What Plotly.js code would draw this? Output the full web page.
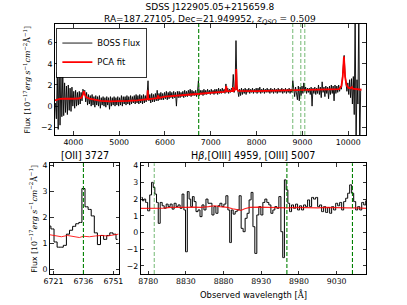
<!DOCTYPE html>
<html><head><meta charset="utf-8">
<script src="https://cdn.plot.ly/plotly-3.0.1.min.js"></script>
<style>html,body{margin:0;padding:0;background:#fff;} #chart{width:407px;height:305px;}</style>
</head><body><div id="chart"></div>
<script>
// ---- full spectrum (BOSS flux), regular wavelength grid ----
const fluxStart = 3610;
const fluxStep = 20;
const bossFlux = [
 0.3,-1.2,3.2,-2.2,4.5,-1.8,2.8,-1.0,3.0,-0.9,
 2.2,-0.6,1.9,-0.8,2.0,-0.4,1.7,-0.5,1.8,0.0,
 1.4,-0.2,1.5,0.0,1.3,0.1,1.4,0.2,1.3,0.5,
 1.6,1.3,1.5,0.4,1.3,0.1,1.1,0.2,1.0,0.0,
 1.1,0.1,0.9,-0.1,1.0,0.1,0.9,0.0,1.0,-0.2,
 0.8,0.1,0.9,0.0,0.8,-0.1,0.9,0.1,0.8,-0.3,
 0.9,0.0,0.8,0.1,0.9,0.0,0.8,0.1,0.9,0.0,
 0.8,0.1,1.0,0.0,0.9,0.2,0.9,0.1,1.0,0.2,
 0.9,0.1,1.0,0.2,0.9,0.3,1.0,0.2,1.1,0.3,
 1.0,0.2,1.1,0.3,1.0,0.2,1.1,0.3,1.0,0.4,
 1.1,2.4,0.5,1.1,0.3,1.2,0.4,1.1,0.4,1.2,
 0.5,1.5,0.5,1.2,0.6,1.3,0.6,1.2,0.6,1.3,
 0.7,1.4,0.6,1.3,0.7,1.4,0.8,1.3,0.7,1.4,
 0.8,1.3,0.0,1.4,0.8,1.4,0.8,1.3,0.9,1.4,
 0.8,1.5,0.9,1.4,0.9,1.5,1.0,1.6,0.9,1.5,
 1.0,1.4,1.0,1.5,0.9,1.4,2.4,1.0,1.5,1.1,
 1.5,1.0,1.6,1.1,1.5,1.1,1.6,1.2,1.5,1.1,
 1.6,1.2,1.5,1.1,1.6,1.2,1.6,1.1,1.7,1.2,
 1.6,1.2,1.7,1.3,1.6,1.2,2.1,1.3,1.7,1.2,
 1.6,1.3,1.7,1.5,3.0,1.3,1.8,6.2,2.0,1.5,
 0.9,1.6,1.0,1.7,1.1,1.6,1.2,1.7,1.1,1.6,
 1.3,1.7,1.2,1.6,1.3,1.7,1.2,1.6,1.3,1.7,
 1.2,1.7,1.3,1.8,1.2,1.6,1.3,1.7,1.2,1.6,
 1.3,1.7,1.3,1.6,1.2,1.7,1.3,1.6,1.2,1.7,
 1.3,1.6,1.2,1.7,1.3,1.6,1.3,1.7,1.2,1.6,
 1.3,1.7,1.2,1.6,1.3,1.7,1.2,1.6,1.3,2.4,
 1.3,0.9,1.8,1.2,0.6,1.9,0.5,1.8,1.0,1.9,
 1.2,2.2,1.4,1.8,1.2,1.7,1.3,1.7,1.1,1.8,
 0.0,1.7,1.2,1.8,1.1,1.7,1.2,2.0,1.1,1.8,
 0.8,2.3,1.3,1.8,0.9,1.9,1.2,1.8,0.7,1.9,
 1.1,2.0,1.2,1.9,0.5,2.0,1.2,1.9,1.3,2.0,
 1.4,1.9,1.6,2.6,4.0,4.8,3.0,2.0,1.4,2.2,
 1.1,2.5,0.8,2.6,0.2,2.8,-0.8,9.0,-4.0,2.5,
 0.2,9.0,-4.0,1.5
];
// ---- PCA fit over the full spectrum ----
const fitWave = [3600,3650,3700,3800,3900,4000,4100,4180,4210,4230,4250,4280,4350,4450,4600,4800,5000,5200,5400,5600,5615,5624,5635,5700,5830,5850,5870,6000,6200,6400,6560,6700,6900,7100,7300,7320,7337,7355,7470,7483,7500,7540,7555,7570,7600,7800,8000,8200,8500,8800,9000,9300,9600,9800,9850,9880,9905,9930,9960,10000,10050,10080,10100,10200,10290];
const fitFlux = [0.55,0.62,0.68,0.70,0.68,0.70,0.72,0.80,1.10,1.40,1.10,0.85,0.70,0.60,0.50,0.45,0.45,0.50,0.55,0.62,0.65,1.50,0.65,0.68,0.75,1.00,0.78,0.90,0.95,1.00,1.10,1.15,1.25,1.30,1.35,1.50,1.90,1.40,1.45,1.80,1.45,1.60,3.50,1.60,1.45,1.40,1.42,1.45,1.47,1.48,1.50,1.50,1.52,1.60,1.90,2.80,4.70,2.80,2.00,1.75,1.70,1.80,1.65,1.58,1.55];
// ---- [OII] 3727 zoom ----
const oiiWave = [6719.0,6720.5,6722.1,6723.6,6725.2,6726.7,6728.3,6729.8,6731.4,6732.9,6734.5,6736.0,6737.6,6739.1,6740.7,6742.2,6743.8,6745.3,6746.9,6748.4,6750.0,6751.5,6753.1];
const oiiFlux = [1.66,1.55,1.05,0.85,0.85,0.92,1.35,1.50,1.65,1.75,1.80,3.10,2.40,2.30,2.05,1.40,0.95,1.30,1.15,1.30,1.40,1.35,1.15];
const oiiFitWave = [6719,6722,6725,6728,6731,6734,6736,6739,6742,6745,6748,6751,6753.5];
const oiiFitFlux = [1.33,1.28,1.25,1.30,1.26,1.22,1.27,1.25,1.28,1.30,1.28,1.33,1.35];
// ---- Hbeta, [OIII] zoom ----
const hbWave = [8771.2,8773.2,8775.4,8777.8,8780.7,8783.3,8785.5,8787.7,8789.9,8792.1,8794.5,8797.2,8799.8,8802.5,8805.1,8807.7,8810.4,8813.0,8815.7,8818.3,8820.9,8823.6,8826.2,8828.4,8830.6,8833.1,8835.3,8837.5,8839.7,8842.1,8844.7,8847.4,8850.0,8852.6,8855.3,8857.9,8860.6,8863.2,8865.9,8868.5,8871.1,8873.8,8876.4,8879.1,8881.7,8884.4,8887.0,8889.2,8891.4,8894.0,8896.7,8899.3,8902.0,8904.6,8907.2,8909.9,8912.5,8915.2,8917.8,8920.1,8922.8,8925.4,8928.1,8930.8,8933.4,8936.1,8938.7,8941.4,8944.1,8946.7,8949.4,8952.0,8954.7,8957.4,8959.6,8961.8,8964.2,8966.4,8968.9,8971.5,8974.2,8976.9,8979.5,8982.2,8984.8,8987.5,8990.2,8992.8,8995.5,8998.1,9000.8,9003.5,9006.1,9008.8,9011.4,9014.1,9016.8,9019.4,9022.1,9024.7,9027.4,9030.1,9032.7,9035.4,9038.0,9040.7,9043.4,9046.0,9048.7,9051.3,9054.0,9056.6,9059.3,9062.0,9064.6,9067.3,9070.0];
const hbFlux = [2.10,1.90,2.00,1.80,1.30,2.25,3.00,2.70,2.30,1.80,0.55,1.80,1.60,1.45,1.70,1.55,1.70,1.40,1.75,1.55,1.65,1.45,2.30,1.35,-1.15,2.45,2.00,1.55,2.15,1.85,1.25,1.35,0.95,1.65,1.35,2.00,1.75,1.75,1.05,1.55,1.15,1.60,1.75,1.55,1.70,2.20,1.35,-0.60,1.35,1.10,1.25,1.35,2.20,0.25,0.05,0.85,1.15,1.95,2.40,0.35,-1.25,1.05,1.55,1.05,1.80,2.00,1.80,1.65,1.15,1.35,1.55,1.45,2.15,0.05,-1.50,3.15,2.55,1.75,1.25,1.65,1.45,1.70,1.35,1.60,1.35,1.65,1.55,1.95,1.55,2.10,2.00,2.10,1.55,1.65,1.25,1.55,1.20,1.50,1.15,1.55,1.35,1.75,1.60,1.80,1.35,1.85,2.05,2.35,2.85,2.35,1.85,1.35,1.55,1.35,1.80,1.65,1.90];
const hbFitWave = [8770,8780,8790,8800,8810,8820,8830,8840,8850,8860,8868,8875,8885,8892,8898,8903,8908,8915,8925,8935,8945,8955,8965,8975,8985,8995,9005,9015,9025,9035,9045,9055,9065,9070];
const hbFitFlux = [1.45,1.45,1.47,1.46,1.50,1.48,1.50,1.52,1.50,1.55,1.60,1.55,1.50,1.42,1.35,1.32,1.42,1.50,1.52,1.50,1.48,1.50,1.48,1.50,1.48,1.50,1.48,1.50,1.48,1.50,1.48,1.47,1.45,1.45];
// ---- emission line markers (observed wavelength) ----
const lineOII = [6736];
const lineHbOIII = [8788, 8964, 9051];
// ---- tick labels ----
const topXTicks = [4000,5000,6000,7000,8000,9000,10000];
const topYTicks = [-2,0,2,4,6];
const oiiXTicks = [6721,6736,6751];
const oiiYTicks = [0,1,2,3,4];
const hbXTicks = [8780,8830,8880,8930,8980,9030];
const hbYTicks = [-2,-1,0,1,2,3,4];

const FONT = 'DejaVu Sans';
const darkG = '#008000', lightG = 'rgba(0,128,0,0.5)';
const lbl = v => v < 0 ? '\u2212' + Math.abs(v) : String(v);

const traces = [
  {x0: fluxStart, dx: fluxStep, y: bossFlux, type:'scatter', mode:'lines', name:'BOSS Flux',
   line:{color:'black', width:0.9}, xaxis:'x', yaxis:'y'},
  {x: fitWave, y: fitFlux, type:'scatter', mode:'lines', name:'PCA fit',
   line:{color:'red', width:1.8}, xaxis:'x', yaxis:'y'},
  {x: oiiWave, y: oiiFlux, type:'scatter', mode:'lines', showlegend:false,
   line:{color:'black', width:1, shape:'hvh'}, xaxis:'x2', yaxis:'y2'},
  {x: oiiFitWave, y: oiiFitFlux, type:'scatter', mode:'lines', showlegend:false,
   line:{color:'rgba(255,0,0,0.85)', width:1}, xaxis:'x2', yaxis:'y2'},
  {x: hbWave, y: hbFlux, type:'scatter', mode:'lines', showlegend:false,
   line:{color:'black', width:1, shape:'hvh'}, xaxis:'x3', yaxis:'y3'},
  {x: hbFitWave, y: hbFitFlux, type:'scatter', mode:'lines', showlegend:false,
   line:{color:'rgba(255,0,0,0.85)', width:1.2}, xaxis:'x3', yaxis:'y3'}
];

function vline(x, xref, yref, color){
  return {type:'line', xref:xref, yref:yref+' domain', x0:x, x1:x, y0:0, y1:1,
          line:{color:color, width:1.1, dash:'4px,2px'}, layer:'above'};
}
const shapes = [];
lineOII.forEach(v => shapes.push(vline(v,'x','y',darkG)));
lineHbOIII.forEach(v => shapes.push(vline(v,'x','y',lightG)));
lineOII.forEach(v => shapes.push(vline(v,'x2','y2',darkG)));
lineHbOIII.forEach((v,i) => shapes.push(vline(v,'x3','y3', i===0 ? lightG : darkG)));

const axBase = {showline:true, linecolor:'black', linewidth:1, mirror:'ticks', ticks:'inside',
  ticklen:3.5, tickwidth:0.8, tickcolor:'black', showgrid:false, zeroline:false,
  tickfont:{family:FONT, size:7.8, color:'black'}, fixedrange:true};
function ax(ticks, extra){
  return Object.assign({}, axBase, {tickmode:'array', tickvals:ticks, ticktext:ticks.map(lbl)}, extra);
}

const serif = 'DejaVu Serif';
const ylab = 'Flux <span style="font-family:'+serif+'">[10<sup>−17</sup><i>erg s</i><sup>−1</sup><i>cm</i><sup>−2</sup>Å<sup>−1</sup>]</span>';
const titleText = 'SDSS J122905.05+215659.8<br>RA=187.27105, Dec=21.949952, <span style="font-family:'+serif+'"><i>z</i><sub><i>QSO</i></sub> = 0.509</span>';

const layout = {
  width:407, height:305, margin:{l:0,r:0,t:0,b:0}, paper_bgcolor:'white', plot_bgcolor:'white',
  font:{family:FONT, size:8, color:'black'},
  xaxis: ax(topXTicks, {domain:[0.1351,0.8985], range:[3600,10380], anchor:'y'}),
  yaxis: ax(topYTicks, {domain:[0.5574,0.9213], range:[-2.73,7.77], anchor:'x'}),
  xaxis2: ax(oiiXTicks, {domain:[0.1229,0.2924], range:[6719.3,6753.8], anchor:'y2'}),
  yaxis2: ax(oiiYTicks, {domain:[0.1016,0.4646], range:[-0.18,4.07], anchor:'x2'}),
  xaxis3: ax(hbXTicks, {domain:[0.3457,0.8993], range:[8770,9069], anchor:'y3'}),
  yaxis3: ax(hbYTicks, {domain:[0.1016,0.4646], range:[-2.48,4.14], anchor:'x3'}),
  shapes: shapes,
  showlegend:true,
  legend:{x:0.139, y:0.909, xanchor:'left', yanchor:'top', bgcolor:'white', bordercolor:'black', borderwidth:0.8,
          font:{family:FONT, size:8.4}, itemwidth:30, tracegroupgap:0},
  annotations:[
    {text:titleText, xref:'x domain', yref:'paper', x:0.5, y:1.0, xanchor:'center', yanchor:'top', showarrow:false,
     font:{family:FONT,size:9}, align:'center'},
    {text:'[OII] 3727', xref:'x2 domain', yref:'paper', x:0.5, y:0.490, xanchor:'center', yanchor:'middle', showarrow:false, font:{family:FONT,size:9.6}},
    {text:'H<i>β</i>,[OIII] 4959, [OIII] 5007', xref:'x3 domain', yref:'paper', x:0.5, y:0.490, xanchor:'center', yanchor:'middle', showarrow:false, font:{family:FONT,size:9.6}},
    {text:'Observed wavelength <span style="font-family:'+serif+'">[Å]</span>', xref:'x3 domain', yref:'paper', x:0.5, y:0.036, xanchor:'center', yanchor:'middle', showarrow:false, font:{family:FONT,size:8.4}},
    {text:ylab, xref:'paper', yref:'y domain', x:27/407, y:0.5, xanchor:'center', yanchor:'middle', textangle:-90, showarrow:false, font:{family:FONT,size:7.8}},
    {text:ylab, xref:'paper', yref:'y2 domain', x:33/407, y:0.5, xanchor:'center', yanchor:'middle', textangle:-90, showarrow:false, font:{family:FONT,size:7.8}}
  ]
};
Plotly.newPlot('chart', traces, layout, {displayModeBar:false, staticPlot:true});
</script></body></html>
